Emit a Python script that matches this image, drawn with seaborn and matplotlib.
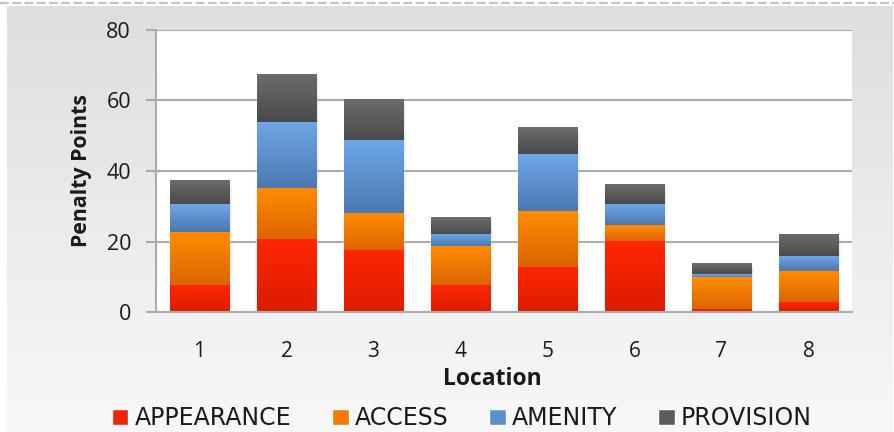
import numpy as np
import pandas as pd
import matplotlib
matplotlib.use("Agg")
import matplotlib.pyplot as plt
import seaborn as sns
from matplotlib.colors import LinearSegmentedColormap
from matplotlib.lines import Line2D
from matplotlib.patches import Rectangle

# ---- data ----
locations = ["1", "2", "3", "4", "5", "6", "7", "8"]
appearance = [7.6, 20.6, 17.5, 7.6, 12.7, 19.9, 0.6, 2.6]
access = [15.0, 14.2, 10.3, 11.0, 15.8, 4.7, 9.1, 8.9]
amenity = [7.9, 19.0, 20.9, 3.2, 16.2, 5.9, 1.0, 4.0]
provision = [6.6, 13.4, 11.4, 5.1, 7.4, 5.4, 3.1, 6.5]
categories = ["APPEARANCE", "ACCESS", "AMENITY", "PROVISION"]
y_ticks = [0, 20, 40, 60, 80]

colors = {"APPEARANCE": "#f02400", "ACCESS": "#f57a00", "AMENITY": "#5b8fd0", "PROVISION": "#5c5c5c"}
grads = {"APPEARANCE": ("#ff2600", "#dc1c00"),
         "ACCESS": ("#ff8c00", "#dc6400"),
         "AMENITY": ("#6fa6e8", "#4a78b0"),
         "PROVISION": ("#6c6c6c", "#4a4a4a")}

df = pd.DataFrame({"Location": locations, "APPEARANCE": appearance, "ACCESS": access,
                   "AMENITY": amenity, "PROVISION": provision})
cum = df[categories].cumsum(axis=1)
cum.insert(0, "Location", locations)

sns.set_style("white")
plt.rcParams["font.family"] = ["Open Sans", "DejaVu Sans"]

W, H = 895, 432
fig = plt.figure(figsize=(W / 100, H / 100), dpi=100)
fig.patch.set_facecolor("white")

# background gradient panel
bg = fig.add_axes([7 / W, 0, (893 - 7) / W, (H - 6) / H], zorder=-10)
grad = np.linspace(0, 1, 256).reshape(-1, 1)
bg.imshow(grad, aspect="auto", extent=[0, 1, 0, 1],
          cmap=LinearSegmentedColormap.from_list("bg", ["#f8f8f8", "#dedede"]), origin="lower")
bg.set_axis_off()
fig.add_artist(Line2D([0, 1], [1 - 2.5 / H] * 2, transform=fig.transFigure,
                      color="#c4c4c4", lw=1.6, linestyle=(0, (4, 1.5))))

left, right, top, bottom = 156, 852, 30, 312
ax = fig.add_axes([left / W, 1 - bottom / H, (right - left) / W, (bottom - top) / H])
ax.set_facecolor("white")

# stacked bars: draw cumulative totals from the top category down
order = categories[::-1]
for cat in order:
    sns.barplot(data=cum, x="Location", y=cat, color=colors[cat], saturation=1,
                width=0.68, ax=ax, label=cat, zorder=2)
if ax.get_legend() is not None:
    ax.get_legend().remove()

# gradient fill per visible segment
for li, cat in enumerate(order):
    ci = categories.index(cat)
    cont = ax.containers[li]
    cmap = LinearSegmentedColormap.from_list(cat, [grads[cat][1], grads[cat][0]])
    for i, p in enumerate(cont.patches):
        x0, w = p.get_x(), p.get_width()
        top_v = p.get_height()
        bot_v = cum[categories[ci - 1]].iloc[i] if ci > 0 else 0
        if top_v - bot_v <= 0:
            continue
        # soft shadow
        for k, a in enumerate([0.06, 0.05, 0.04]):
            d = 0.012 * (k + 1)
            ax.add_patch(Rectangle((x0 + d, bot_v - 0.35 * (k + 1)), w, top_v - bot_v,
                                   color="black", alpha=a, lw=0, zorder=1.5))
        ax.imshow(grad, aspect="auto", extent=[x0, x0 + w, bot_v, top_v], cmap=cmap,
                  origin="lower", zorder=3 + li * 0.01, interpolation="bilinear")

ax.set_xlim(-0.5, 7.5)
ax.set_ylim(0, 80)
ax.set_yticks(y_ticks)
ax.set_xticks(range(len(locations)))
ax.set_xticklabels(locations)
ax.set_xticks(np.arange(-0.5, len(locations), 1), minor=True)

gc = "#ababab"
ax.yaxis.grid(True, color=gc, lw=1.5, zorder=0)
ax.set_axisbelow(True)
for s in ["top", "right"]:
    ax.spines[s].set_visible(False)
for s in ["left", "bottom"]:
    ax.spines[s].set_color(gc)
    ax.spines[s].set_linewidth(1.5)
ax.spines["bottom"].set_zorder(5)

ax.tick_params(axis="x", which="major", length=0, pad=21, labelsize=15, colors="#1a1a1a")
ax.tick_params(axis="x", which="minor", length=7, width=1.5, color=gc, direction="out")
ax.tick_params(axis="y", which="major", length=7, width=1.5, color=gc, direction="out",
               pad=11, labelsize=15.5, labelcolor="#1a1a1a", left=True)

ax.set_xlabel("Location", fontsize=16.5, fontweight="bold", color="#1a1a1a")
ax.xaxis.set_label_coords((492 - left) / (right - left), (bottom - 367) / (bottom - top))
ax.set_ylabel("Penalty Points", fontsize=15.3, fontweight="bold", color="#1a1a1a")
ax.yaxis.set_label_coords((92 - left) / (right - left), 0.5)

handles, labels = ax.get_legend_handles_labels()
hl = dict(zip(labels, handles))
leg = fig.legend([hl[c] for c in categories], categories, loc="center",
                 bbox_to_anchor=(462 / W, 1 - 418 / H), ncol=4, frameon=False,
                 prop={"family": "DejaVu Sans", "size": 17},
                 handlelength=0.7, handleheight=0.66, handletextpad=0.27, columnspacing=1.72)
for t in leg.get_texts():
    t.set_color("#1a1a1a")

fig.savefig("out.png", dpi=100)
